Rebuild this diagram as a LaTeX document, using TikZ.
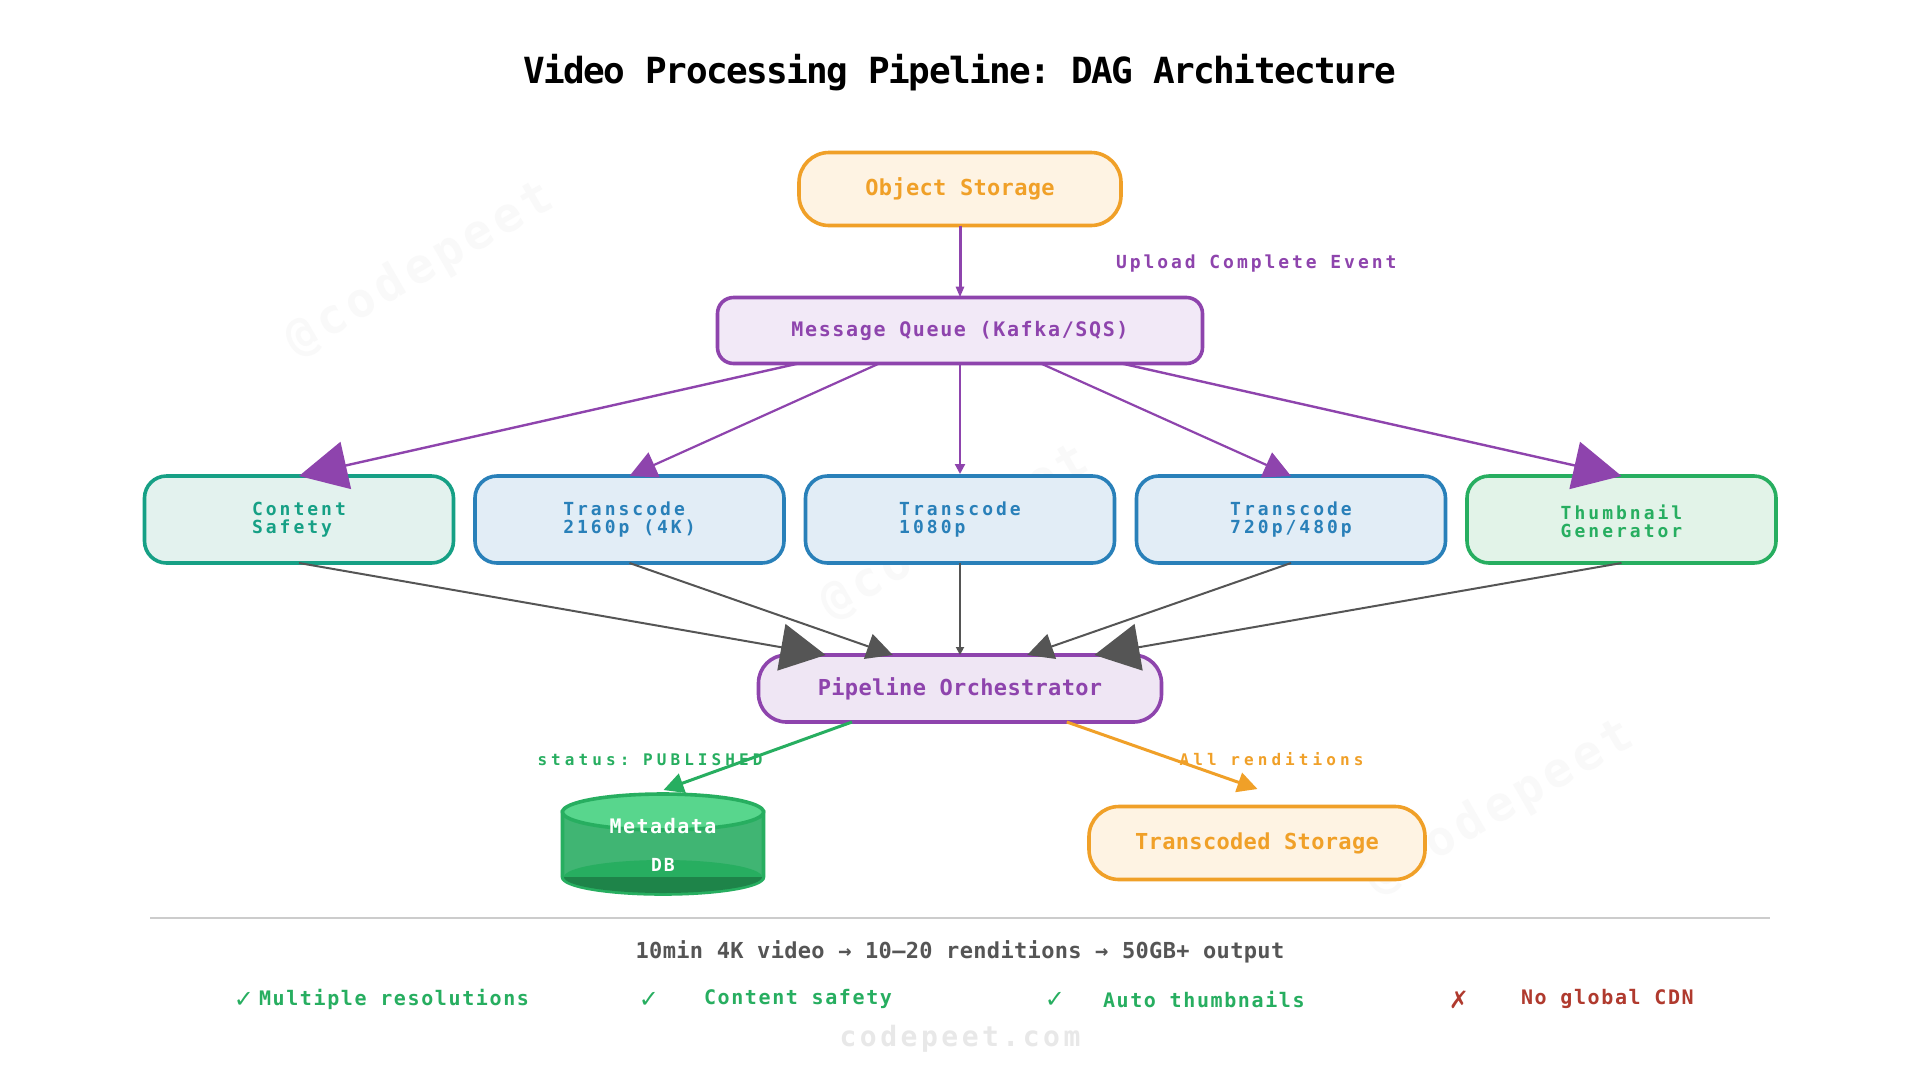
\documentclass[tikz,border=0pt]{standalone}
\usepackage{fontspec}
\usetikzlibrary{arrows.meta,calc}
\newfontfamily\dmono{DejaVu Sans Mono}
\newfontfamily\dsans{DejaVu Sans}
% #1 size, #2 letter spacing (percent of size)
\newcommand{\mfont}[2]{\frenchspacing\dmono\bfseries\fontsize{#1}{#1}\selectfont\addfontfeature{LetterSpace=#2}}
\definecolor{cOrange}{HTML}{F0A028}\definecolor{fOrange}{HTML}{FEF3E3}
\definecolor{cPurple}{HTML}{8E44AD}\definecolor{fPurple}{HTML}{F2E9F7}\definecolor{fOrch}{HTML}{EFE6F4}
\definecolor{cTeal}{HTML}{16A085}\definecolor{fTeal}{HTML}{E3F2EE}
\definecolor{cBlue}{HTML}{2980B9}\definecolor{fBlue}{HTML}{E2EDF6}
\definecolor{cGreen}{HTML}{27AE60}\definecolor{fGreen}{HTML}{E2F3E8}
\definecolor{cGray}{HTML}{555555}\definecolor{cRed}{HTML}{B03A2E}
\definecolor{cBody}{HTML}{40B573}\definecolor{cTop}{HTML}{58D68D}\definecolor{cDark}{HTML}{1E8449}
\definecolor{cMark}{HTML}{F9F9F9}\definecolor{cSite}{HTML}{E8E8E8}
\tikzset{
  x=1pt,y=-1pt,
  box/.style={draw,line width=3.6pt,inner sep=0pt,outer sep=0pt,align=left},
  pill/.style={box,rounded corners=30pt,draw=cOrange,fill=fOrange,text=cOrange,font=\mfont{22}{1.5}},
  stage/.style={box,rounded corners=22pt,minimum width=309pt,minimum height=87pt,font=\mfont{18}{16.67}},
  txt/.style={inner sep=0pt,outer sep=0pt},
  lbl/.style={txt,font=\mfont{16}{25.5}},
  foot/.style={txt,anchor=west,font=\mfont{20}{8.1}},
  tick/.style={txt,font=\dsans\bfseries\fontsize{24}{24}\selectfont},
  wm/.style={txt,text=cMark,rotate=30,font=\mfont{48}{10.4}},
  pur/.style={draw=cPurple,color=cPurple},
  gry/.style={draw=cGray,color=cGray},
}
\begin{document}
\begin{tikzpicture}
\useasboundingbox (0,0) rectangle (1920,1080);
\fill[white] (0,0) rectangle (1920,1080);
% watermarks
\node[wm] (w1) at (420,270) {@codepeet};
\node[wm] (w2) at (955,533) {@codepeet};
\node[wm] (w3) at (1500,808) {@codepeet};
\node[txt,text=black,font=\mfont{36}{-4.3}] (title) at (960,73) {Video Processing Pipeline: DAG Architecture};
% nodes
\node[pill,minimum width=322pt,minimum height=73pt] (obj) at (960,189) {Object Storage};
\node[box,rounded corners=16pt,draw=cPurple,fill=fPurple,text=cPurple,minimum width=485pt,minimum height=66pt,font=\mfont{20}{8.2}] (mq) at (960,330.5) {Message Queue (Kafka/SQS)};
\node[txt,text=cPurple,font=\mfont{18}{16.3},anchor=west] (up) at (1116,264) {Upload Complete Event};
\node[stage,draw=cTeal,fill=fTeal,text=cTeal] (cs) at (299,519.5) {Content\\Safety};
\node[stage,draw=cBlue,fill=fBlue,text=cBlue] (t4) at (629.5,519.5) {Transcode\\2160p (4K)};
\node[stage,draw=cBlue,fill=fBlue,text=cBlue] (t1) at (960,519.5) {Transcode\\1080p};
\node[stage,draw=cBlue,fill=fBlue,text=cBlue] (t7) at (1291,519.5) {Transcode\\720p/480p};
\node[stage,draw=cGreen,fill=fGreen,text=cGreen] (th) at (1621.5,519.5) {\rule{0pt}{18.5pt}Thumbnail\\Generator};
\node[box,rounded corners=28pt,draw=cPurple,fill=fOrch,text=cPurple,minimum width=403pt,minimum height=67pt,font=\mfont{22}{1.5}] (orch) at (960,688.5) {Pipeline Orchestrator};
\node[pill,minimum width=336pt,minimum height=73pt] (ts) at (1257,843) {Transcoded Storage};
% database cylinder
\coordinate (db) at (663,793);
\filldraw[draw=cGreen,fill=cBody,line width=3.6pt] (562.5,812) -- (562.5,877) arc[start angle=180,end angle=360,x radius=100.5pt,y radius=17pt] -- (763.5,812) -- cycle;
\fill[cGreen] (663,877) ellipse[x radius=99pt,y radius=17pt];
\fill[cDark] (564,877) arc[start angle=180,end angle=360,x radius=99pt,y radius=16pt] -- cycle;
\filldraw[draw=cGreen,fill=cTop,line width=3.6pt] (663,812) ellipse[x radius=100.5pt,y radius=18pt];
\node[txt,text=white,font=\mfont{20}{7.5}] (dbt) at (663,826.5) {Metadata};
\node[txt,text=white,font=\mfont{18}{11}] (dbs) at (663,864.5) {DB};
% anchor points
\foreach \n/\f in {1/0.1667,2/0.3333,3/0.5,4/0.6667,5/0.8333}{
  \coordinate (mq\n) at ($(mq.south west)!\f!(mq.south east)$);
  \coordinate (or\n) at ($(orch.north west)!\f!(orch.north east)$);
}
\coordinate (orL) at ($(orch.south west)!0.232!(orch.south east)$);
\coordinate (orR) at ($(orch.south west)!0.765!(orch.south east)$);
\coordinate (dbTip) at (663.5,790);
\coordinate (tsTip) at (1257.5,789);
% connectors
\draw[pur,line width=3pt,-{Triangle[length=11pt,width=8pt]}] (obj.south) -- (mq.north);
\draw[pur,line width=2.4pt,-{Triangle[length=48pt,width=48pt]}] (mq1) -- (cs.north);
\draw[pur,line width=2.2pt,-{Triangle[length=27pt,width=27pt]}] (mq2) -- (t4.north);
\draw[pur,line width=2.2pt,-{Triangle[length=10pt,width=10pt]}] (mq3) -- ($(t1.north)+(0,-2)$);
\draw[pur,line width=2.2pt,-{Triangle[length=27pt,width=27pt]}] (mq4) -- (t7.north);
\draw[pur,line width=2.4pt,-{Triangle[length=48pt,width=48pt]}] (mq5) -- (th.north);
\draw[gry,line width=2pt,-{Triangle[length=45pt,width=47pt]}] (cs.south) -- (or1);
\draw[gry,line width=2pt,-{Triangle[length=26pt,width=26pt]}] (t4.south) -- (or2);
\draw[gry,line width=1.8pt,-{Triangle[length=8pt,width=8pt]}] (t1.south) -- (or3);
\draw[gry,line width=2pt,-{Triangle[length=26pt,width=26pt]}] (t7.south) -- (or4);
\draw[gry,line width=2pt,-{Triangle[length=45pt,width=47pt]}] (th.south) -- (or5);
\draw[cGreen,line width=3pt,-{Triangle[length=20pt,width=20pt]}] (orL) -- (dbTip);
\draw[cOrange,line width=3pt,-{Triangle[length=20pt,width=20pt]}] (orR) -- (tsTip);
\node[lbl,text=cGreen] (l1) at (650,760) {status: PUBLISHED};
\node[lbl,text=cOrange] (l2) at (1271.5,759) {All renditions};
% footer
\draw[draw=black!20,line width=2pt] (150,918) coordinate (d1) -- (1770,918) coordinate (d2);
\node[txt,text=cGray,font=\mfont{22}{1.5}] (f0) at (960,952) {10min 4K video → 10–20 renditions → 50GB+ output};
\node[tick,text=cGreen] (m1) at (244,1000) {✓};
\node[foot,text=cGreen] (f1) at (259,999) {Multiple resolutions};
\node[tick,text=cGreen] (m2) at (649,1000) {✓};
\node[foot,text=cGreen] (f2) at (704,999) {Content safety};
\node[tick,text=cGreen] (m3) at (1055,1000) {✓};
\node[foot,text=cGreen] (f3) at (1103,999.5) {Auto thumbnails};
\node[tick,text=cRed] (m4) at (1459,1000) {✗};
\node[foot,text=cRed] (f4) at (1521,999) {No global CDN};
\node[txt,text=cSite,font=\mfont{28}{12.5}] (site) at (960,1039) {codepeet.com};
\end{tikzpicture}
\end{document}
